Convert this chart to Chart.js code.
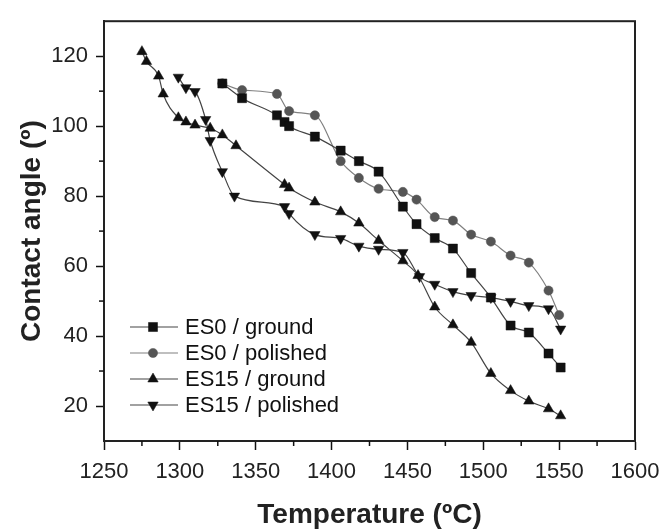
<!DOCTYPE html>
<html>
<head>
<meta charset="utf-8">
<script src="https://cdn.jsdelivr.net/npm/chart.js@4.4.0/dist/chart.umd.min.js"></script>
<style>
  html, body { margin: 0; padding: 0; background: #fff; }
  #caixa { width: 671px; height: 532px; position: relative; }
</style>
</head>
<body>
<div id="caixa"><canvas id="grafico"></canvas></div>
<script>
// --------- dados ----------------------------
const nomesSeries = ['ES0 / ground', 'ES0 / polished', 'ES15 / ground', 'ES15 / polished'];

const es0GroundT = [1328, 1341, 1364, 1369, 1372, 1389, 1406, 1418, 1431, 1447, 1456, 1468, 1480, 1492, 1505, 1518, 1530, 1543, 1551];
const es0GroundAng = [112.2, 108, 103.1, 101.2, 100, 97, 93, 90, 87, 77, 72, 68, 65, 58, 51, 43, 41, 35, 31];

const es0PolishedT = [1328, 1341, 1364, 1372, 1389, 1406, 1418, 1431, 1447, 1456, 1468, 1480, 1492, 1505, 1518, 1530, 1543, 1550];
const es0PolishedAng = [112.2, 110.3, 109.2, 104.3, 103.1, 90, 85.2, 82.1, 81.2, 79, 74, 73, 69, 67, 63, 61, 53, 46];

const es15GroundT = [1275, 1278, 1286, 1289, 1299, 1304, 1310, 1320, 1328, 1337, 1369, 1372, 1389, 1406, 1418, 1431, 1447, 1457, 1468, 1480, 1492, 1505, 1518, 1530, 1543, 1551];
const es15GroundAng = [121.3, 118.5, 114.3, 109.2, 102.4, 101.2, 100.3, 99.4, 97.5, 94.4, 83.3, 82.3, 78.3, 75.5, 72.3, 67.3, 61.5, 57.3, 48.3, 43.2, 38.2, 29.3, 24.4, 21.4, 19.2, 17.2];

const es15PolishedT = [1299, 1304, 1310, 1317, 1320, 1328, 1336, 1369, 1372, 1389, 1406, 1418, 1431, 1447, 1458, 1468, 1480, 1492, 1505, 1518, 1530, 1543, 1551];
const es15PolishedAng = [114, 111, 109.9, 101.9, 95.9, 87, 80, 77, 75, 69, 67.9, 65.7, 64.8, 63.9, 57, 54.8, 52.7, 51.6, 51, 49.9, 48.7, 47.8, 42];

const ticksX = [1250, 1300, 1350, 1400, 1450, 1500, 1550, 1600];
const ticksXMenores = [1275, 1325, 1375, 1425, 1475, 1525, 1575];
const ticksY = [20, 40, 60, 80, 100, 120];
const ticksYMenores = [30, 50, 70, 90, 110];

const FONTE = "'Liberation Sans', Arial, sans-serif";

function juntar(xs, ys) {
    let pts = [];
    for (let i = 0; i < xs.length; i++) {
        pts.push({ x: xs[i], y: ys[i] });
    }
    return pts;
}

// estilos de cada série (marcador, cor)
const estilos = [
    { forma: 'rect', raio: 6.4, rot: 0, cor: '#111', linha: '#444' },
    { forma: 'circle', raio: 4.6, rot: 0, cor: '#555', linha: '#808080' },
    { forma: 'triangle', raio: 6, rot: 0, cor: '#111', linha: '#444' },
    { forma: 'triangle', raio: 6, rot: 180, cor: '#111', linha: '#444' }
];

const dadosSeries = [
    juntar(es0GroundT, es0GroundAng),
    juntar(es0PolishedT, es0PolishedAng),
    juntar(es15GroundT, es15GroundAng),
    juntar(es15PolishedT, es15PolishedAng)
];

let datasets = [];
for (let i = 0; i < dadosSeries.length; i++) {
    const e = estilos[i];
    datasets.push({
        label: nomesSeries[i],
        data: dadosSeries[i],
        borderColor: e.linha,
        borderWidth: 1.2,
        cubicInterpolationMode: 'monotone',
        pointStyle: e.forma,
        pointRadius: e.raio,
        pointRotation: e.rot,
        pointBackgroundColor: e.cor,
        pointBorderColor: e.cor,
        pointBorderWidth: 0.5,
        fill: false
    });
}

// moldura, ticks menores e legenda
const extras = {
    id: 'extras',
    afterDraw(chart) {
        const ctx = chart.ctx;
        const a = chart.chartArea;
        const sx = chart.scales.x;
        const sy = chart.scales.y;
        ctx.save();
        ctx.strokeStyle = '#222';
        ctx.lineWidth = 2;
        ctx.strokeRect(a.left, a.top, a.right - a.left, a.bottom - a.top);

        ctx.lineWidth = 1.5;
        ctx.strokeStyle = '#111';
        for (let i = 0; i < ticksXMenores.length; i++) {
            const px = sx.getPixelForValue(ticksXMenores[i]);
            ctx.beginPath();
            ctx.moveTo(px, a.bottom);
            ctx.lineTo(px, a.bottom + 5);
            ctx.stroke();
        }
        for (let i = 0; i < ticksYMenores.length; i++) {
            const py = sy.getPixelForValue(ticksYMenores[i]);
            ctx.beginPath();
            ctx.moveTo(a.left, py);
            ctx.lineTo(a.left - 5, py);
            ctx.stroke();
        }

        // legenda
        const x0 = 130, x1 = 178, xm = 153, xt = 185;
        const y0 = 327, passo = 26;
        ctx.font = '22px ' + FONTE;
        ctx.textBaseline = 'middle';
        ctx.textAlign = 'left';
        for (let i = 0; i < nomesSeries.length; i++) {
            const e = estilos[i];
            const y = y0 + i * passo;
            ctx.strokeStyle = e.linha;
            ctx.lineWidth = 1.2;
            ctx.beginPath();
            ctx.moveTo(x0, y);
            ctx.lineTo(x1, y);
            ctx.stroke();
            ctx.fillStyle = e.cor;
            ctx.strokeStyle = e.cor;
            ctx.lineWidth = 0.5;
            Chart.helpers.drawPoint(ctx, {
                pointStyle: e.forma, radius: e.raio, rotation: e.rot, borderWidth: 0.5
            }, xm, y);
            ctx.fillStyle = '#111';
            ctx.fillText(nomesSeries[i], xt, y + 1);
        }
        ctx.restore();
    }
};

function plotarGrafico() {
    const ctx = document.getElementById('grafico');

    window.grafico = new Chart(ctx, {
        type: 'line',
        data: { datasets: datasets },
        options: {
            responsive: true,
            maintainAspectRatio: false,
            animation: false,
            layout: { padding: { top: 12, right: 36, left: 0, bottom: 0 } },
            plugins: {
                legend: { display: false },
                tooltip: { enabled: false }
            },
            scales: {
                x: {
                    type: 'linear',
                    min: 1250,
                    max: 1600,
                    afterBuildTicks: (s) => { s.ticks = ticksX.map(v => ({ value: v })); },
                    afterFit: (s) => { s.height = 91; },
                    grid: { drawOnChartArea: false, drawTicks: true, tickLength: 9, tickColor: '#111', tickWidth: 1.5 },
                    border: { display: true, color: '#222', width: 2 },
                    ticks: {
                        color: '#222',
                        font: { family: FONTE, size: 22 },
                        padding: 9,
                        maxRotation: 0,
                        autoSkip: false,
                        callback: (v) => String(v)
                    },
                    title: {
                        display: true,
                        text: 'Temperature (ºC)',
                        color: '#222',
                        font: { family: FONTE, size: 28, weight: 'bold' },
                        padding: { top: 0, bottom: 0 }
                    }
                },
                y: {
                    type: 'linear',
                    min: 10,
                    max: 130,
                    afterBuildTicks: (s) => { s.ticks = ticksY.map(v => ({ value: v })); },
                    afterFit: (s) => { s.width = 104; },
                    grid: { drawOnChartArea: false, drawTicks: true, tickLength: 8, tickColor: '#111', tickWidth: 1.5 },
                    border: { display: true, color: '#222', width: 2 },
                    ticks: {
                        color: '#222',
                        font: { family: FONTE, size: 22 },
                        padding: 8,
                        autoSkip: false,
                        callback: (v) => String(v)
                    },
                    title: {
                        display: true,
                        text: 'Contact angle (º)',
                        color: '#222',
                        font: { family: FONTE, size: 28, weight: 'bold' },
                        padding: { top: 15, bottom: 0 }
                    }
                }
            }
        },
        plugins: [extras]
    });
}

window.onload = () => {
    plotarGrafico();
};
</script>
</body>
</html>
